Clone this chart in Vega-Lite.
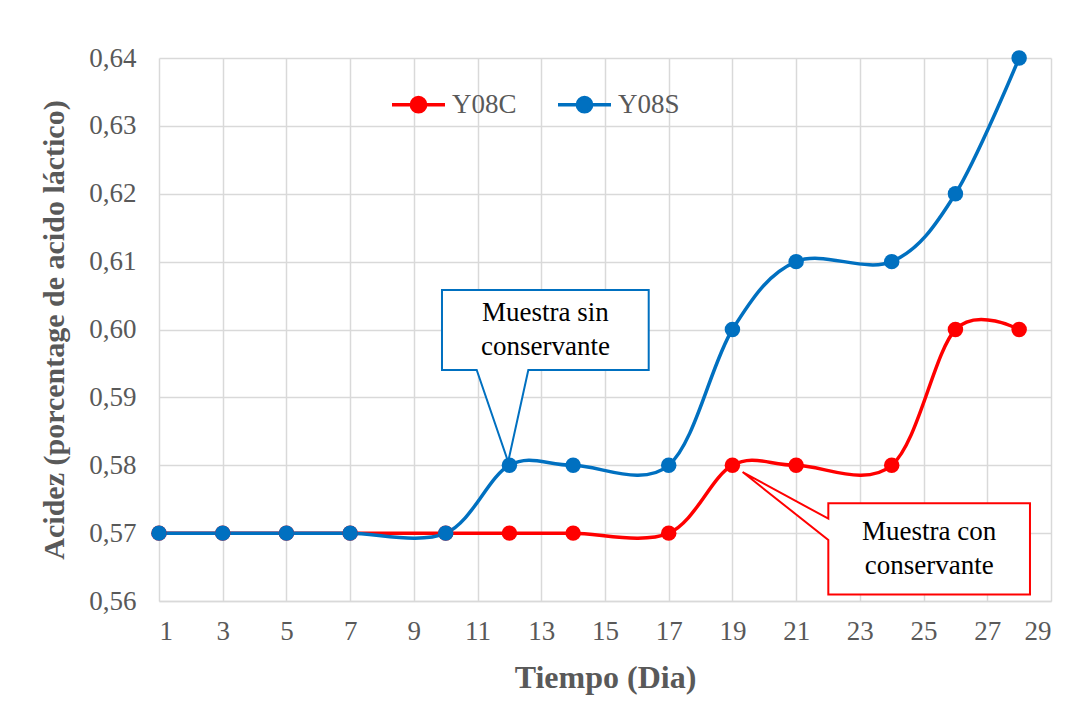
{
  "$schema": "https://vega.github.io/schema/vega-lite/v6.json",
  "autosize": {"type": "none"},
  "width": 892,
  "height": 543,
  "padding": {"left": 159, "top": 58, "right": 37, "bottom": 106},
  "background": "white",
  "config": {
    "view": {"stroke": null},
    "font": "Liberation Serif",
    "axis": {
      "labelFont": "Liberation Serif",
      "titleFont": "Liberation Serif",
      "labelColor": "#595959",
      "titleColor": "#595959",
      "gridColor": "#d9d9d9",
      "gridWidth": 1.5,
      "ticks": false,
      "labelFontSize": 27,
      "titleFontSize": 32,
      "titleFontWeight": "bold"
    }
  },
  "datasets": {
    "series": [
      {"day": 1, "value": 0.57, "serie": "Y08C"},
      {"day": 3, "value": 0.57, "serie": "Y08C"},
      {"day": 5, "value": 0.57, "serie": "Y08C"},
      {"day": 7, "value": 0.57, "serie": "Y08C"},
      {"day": 10, "value": 0.57, "serie": "Y08C"},
      {"day": 12, "value": 0.57, "serie": "Y08C"},
      {"day": 14, "value": 0.57, "serie": "Y08C"},
      {"day": 17, "value": 0.57, "serie": "Y08C"},
      {"day": 19, "value": 0.58, "serie": "Y08C"},
      {"day": 21, "value": 0.58, "serie": "Y08C"},
      {"day": 24, "value": 0.58, "serie": "Y08C"},
      {"day": 26, "value": 0.60, "serie": "Y08C"},
      {"day": 28, "value": 0.60, "serie": "Y08C"},
      {"day": 1, "value": 0.57, "serie": "Y08S"},
      {"day": 3, "value": 0.57, "serie": "Y08S"},
      {"day": 5, "value": 0.57, "serie": "Y08S"},
      {"day": 7, "value": 0.57, "serie": "Y08S"},
      {"day": 10, "value": 0.57, "serie": "Y08S"},
      {"day": 12, "value": 0.58, "serie": "Y08S"},
      {"day": 14, "value": 0.58, "serie": "Y08S"},
      {"day": 17, "value": 0.58, "serie": "Y08S"},
      {"day": 19, "value": 0.60, "serie": "Y08S"},
      {"day": 21, "value": 0.61, "serie": "Y08S"},
      {"day": 24, "value": 0.61, "serie": "Y08S"},
      {"day": 26, "value": 0.62, "serie": "Y08S"},
      {"day": 28, "value": 0.64, "serie": "Y08S"}
    ],
    "callouts": [
      {"callout": "sin", "k": 1, "x": 9.883, "y": 0.60582},
      {"callout": "sin", "k": 2, "x": 16.372, "y": 0.60582},
      {"callout": "sin", "k": 3, "x": 16.372, "y": 0.59403},
      {"callout": "sin", "k": 4, "x": 12.593, "y": 0.59403},
      {"callout": "sin", "k": 5, "x": 11.96, "y": 0.58052},
      {"callout": "sin", "k": 6, "x": 10.973, "y": 0.59403},
      {"callout": "sin", "k": 7, "x": 9.883, "y": 0.59403},
      {"callout": "con", "k": 1, "x": 22.01, "y": 0.57439},
      {"callout": "con", "k": 2, "x": 28.34, "y": 0.57439},
      {"callout": "con", "k": 3, "x": 28.34, "y": 0.56094},
      {"callout": "con", "k": 4, "x": 22.01, "y": 0.56094},
      {"callout": "con", "k": 5, "x": 22.01, "y": 0.56898},
      {"callout": "con", "k": 6, "x": 19.32, "y": 0.579},
      {"callout": "con", "k": 7, "x": 22.01, "y": 0.57213}
    ],
    "labels": [
      {"callout": "sin", "x": 13.13, "y": 0.59993, "text": ["Muestra sin", "conservante"]},
      {"callout": "con", "x": 25.175, "y": 0.56766, "text": ["Muestra con", "conservante"]}
    ]
  },
  "layer": [
    {
      "data": {"name": "series"},
      "mark": {"type": "line", "interpolate": "cardinal", "strokeWidth": 3.5},
      "encoding": {
        "x": {
          "field": "day", "type": "quantitative",
          "scale": {"domain": [1, 29], "nice": false, "zero": false},
          "axis": {"values": [1,3,5,7,9,11,13,15,17,19,21,23,25,27,29], "title": "Tiempo (Dia)", "labelPadding": 17, "titlePadding": 18, "domainColor": "#d9d9d9", "domainWidth": 1.5}
        },
        "y": {
          "field": "value", "type": "quantitative",
          "scale": {"domain": [0.56, 0.64], "nice": false, "zero": false},
          "axis": {"values": [0.56,0.57,0.58,0.59,0.60,0.61,0.62,0.63,0.64], "labelExpr": "replace(format(datum.value, '.2f'), '.', ',')", "title": "Acidez (porcentage de acido láctico)", "titleFontSize": 30, "labelPadding": 23, "titlePadding": 19, "domain": false}
        },
        "color": {
          "field": "serie", "type": "nominal",
          "scale": {"domain": ["Y08C", "Y08S"], "range": ["#FF0000", "#0070C0"]},
          "legend": {
            "title": null,
            "orient": "none",
            "direction": "horizontal",
            "legendX": 231,
            "legendY": 18,
            "symbolType": "M-1,0H1M0.27,0A0.27,0.27,0,1,1,-0.27,0A0.27,0.27,0,1,1,0.27,0Z",
            "symbolSize": 2809,
            "symbolStrokeWidth": 3.5,
            "labelFont": "Liberation Serif",
            "labelFontSize": 27,
            "labelColor": "#595959",
            "labelOffset": 5,
            "columnPadding": 34,
            "encode": {
              "symbols": {
                "update": {
                  "fill": {"scale": "color", "field": "value"},
                  "stroke": {"scale": "color", "field": "value"},
                  "opacity": {"value": 1}
                }
              }
            }
          }
        }
      }
    },
    {
      "data": {"name": "series"},
      "mark": {"type": "point", "filled": true, "size": 240, "opacity": 1},
      "encoding": {
        "x": {"field": "day", "type": "quantitative"},
        "y": {"field": "value", "type": "quantitative"},
        "color": {"field": "serie", "type": "nominal"}
      }
    },
    {
      "data": {"name": "callouts"},
      "transform": [{"filter": "datum.callout === 'sin'"}],
      "mark": {"type": "line", "interpolate": "linear-closed", "fill": "white", "stroke": "#0070C0", "strokeWidth": 2},
      "encoding": {
        "x": {"field": "x", "type": "quantitative"},
        "y": {"field": "y", "type": "quantitative"},
        "order": {"field": "k", "type": "quantitative"}
      }
    },
    {
      "data": {"name": "callouts"},
      "transform": [{"filter": "datum.callout === 'con'"}],
      "mark": {"type": "line", "interpolate": "linear-closed", "fill": "white", "stroke": "#FF0000", "strokeWidth": 2},
      "encoding": {
        "x": {"field": "x", "type": "quantitative"},
        "y": {"field": "y", "type": "quantitative"},
        "order": {"field": "k", "type": "quantitative"}
      }
    },
    {
      "data": {"name": "labels"},
      "mark": {"type": "text", "font": "Liberation Serif", "fontSize": 27, "color": "black", "align": "center", "baseline": "middle", "lineHeight": 34, "dy": -17},
      "encoding": {
        "x": {"field": "x", "type": "quantitative"},
        "y": {"field": "y", "type": "quantitative"},
        "text": {"field": "text"}
      }
    }
  ]
}
